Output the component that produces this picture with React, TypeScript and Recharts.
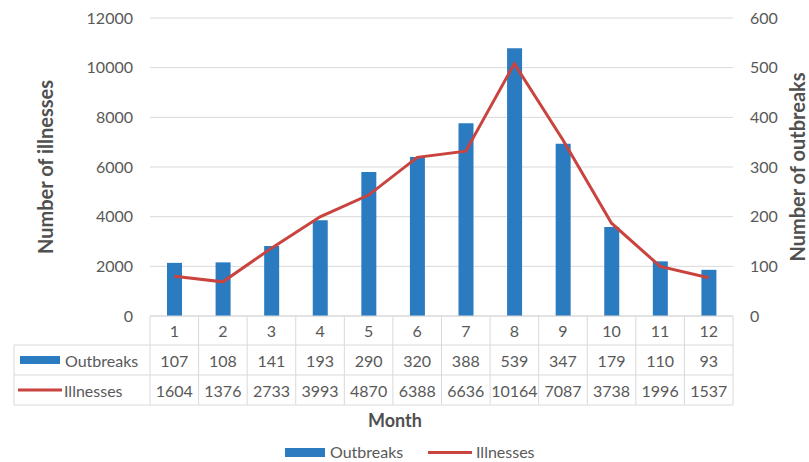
import React from "react";
import {
  ComposedChart,
  Bar,
  Line,
  XAxis,
  YAxis,
  CartesianGrid,
  Legend,
} from "recharts";

const months = ["1", "2", "3", "4", "5", "6", "7", "8", "9", "10", "11", "12"];
const outbreaks = [107, 108, 141, 193, 290, 320, 388, 539, 347, 179, 110, 93];
const illnesses = [1604, 1376, 2733, 3993, 4870, 6388, 6636, 10164, 7087, 3738, 1996, 1537];
const illnessTicks = [0, 2000, 4000, 6000, 8000, 10000, 12000];
const outbreakTicks = [0, 100, 200, 300, 400, 500, 600];

const data = months.map((m, i) => ({
  month: m,
  outbreaks: outbreaks[i],
  illnesses: illnesses[i],
}));

const BLUE = "#2b7bc1";
const RED = "#c9433f";
const GRID = "#d9d9d9";
const TEXT = "#595959";

// rows of the data table under the plot: month / outbreaks / illnesses
const ROWS = [29, 30, 30];

const TableTick = ({ x, y, payload, index }: any) => {
  const half = payload.offset || 24.3;
  const left = x - half;
  const right = x + half;
  const y1 = y + ROWS[0];
  const y2 = y1 + ROWS[1];
  const y3 = y2 + ROWS[2];
  const head = left - 136;
  const txt = { fontSize: 16, fill: TEXT, textAnchor: "middle" as const, dominantBaseline: "central" as const };
  return (
    <g>
      <line x1={right} y1={y} x2={right} y2={y3} stroke={GRID} />
      <line x1={left} y1={y1} x2={right} y2={y1} stroke={GRID} />
      <line x1={left} y1={y2} x2={right} y2={y2} stroke={GRID} />
      <line x1={left} y1={y3} x2={right} y2={y3} stroke={GRID} />
      <text x={x} y={y + ROWS[0] / 2} {...txt}>{payload.value}</text>
      <text x={x} y={y1 + ROWS[1] / 2} {...txt}>{outbreaks[index]}</text>
      <text x={x} y={y2 + ROWS[2] / 2} {...txt}>{illnesses[index]}</text>
      {index === 0 && (
        <g>
          <line x1={left} y1={y} x2={left} y2={y3} stroke={GRID} />
          <line x1={head} y1={y1} x2={head} y2={y3} stroke={GRID} />
          <line x1={head} y1={y1} x2={left} y2={y1} stroke={GRID} />
          <line x1={head} y1={y2} x2={left} y2={y2} stroke={GRID} />
          <line x1={head} y1={y3} x2={left} y2={y3} stroke={GRID} />
          <rect x={head + 6} y={y1 + ROWS[1] / 2 - 4} width={40} height={8} fill={BLUE} />
          <text x={head + 51} y={y1 + ROWS[1] / 2} {...txt} textAnchor="start">Outbreaks</text>
          <line x1={head + 4} y1={y2 + ROWS[2] / 2} x2={head + 48} y2={y2 + ROWS[2] / 2} stroke={RED} strokeWidth={3} />
          <text x={head + 50} y={y2 + ROWS[2] / 2} {...txt} textAnchor="start">Illnesses</text>
        </g>
      )}
    </g>
  );
};

const AxisTitle = ({ viewBox, value, dx }: any) => {
  const cx = viewBox.x + dx;
  const cy = viewBox.y + viewBox.height / 2;
  return (
    <text
      x={cx}
      y={cy}
      transform={`rotate(-90 ${cx} ${cy})`}
      textAnchor="middle"
      dominantBaseline="central"
      fontSize={20}
      fontWeight="bold"
      fill="#505050"
    >
      {value}
    </text>
  );
};

const BottomLegend = () => (
  <div style={{ position: "relative", width: 809, height: 57, color: TEXT }}>
    <div
      style={{
        position: "absolute",
        left: 0,
        width: 790,
        top: 4,
        textAlign: "center",
        fontSize: 18,
        fontWeight: "bold",
        lineHeight: "22px",
        color: "#505050",
      }}
    >
      Month
    </div>
    <div style={{ position: "absolute", left: 285, top: 43, width: 40, height: 9, background: BLUE }} />
    <div style={{ position: "absolute", left: 330, top: 37, fontSize: 16, lineHeight: "20px" }}>Outbreaks</div>
    <div style={{ position: "absolute", left: 428, top: 46, width: 44, height: 3, background: RED }} />
    <div style={{ position: "absolute", left: 476, top: 37, fontSize: 16, lineHeight: "20px" }}>Illnesses</div>
  </div>
);

export default function App() {
  return (
    <div style={{ position: "absolute", left: 0, top: 0, fontFamily: "Lato, sans-serif", background: "#fff" }}>
      <ComposedChart
        width={809}
        height={462}
        data={data}
        margin={{ top: 18, right: 0, left: 0, bottom: 0 }}
      >
        <CartesianGrid yAxisId="left" vertical={false} stroke={GRID} />
        <XAxis
          dataKey="month"
          height={89}
          tickLine={false}
          axisLine={{ stroke: GRID }}
          tickSize={0}
          tickMargin={0}
          interval={0}
          tick={<TableTick />}
        />
        <YAxis
          yAxisId="left"
          width={150}
          domain={[0, 12000]}
          ticks={illnessTicks}
          axisLine={false}
          tickLine={false}
          tickSize={0}
          tickMargin={17}
          tick={{ fontSize: 16, fill: TEXT }}
          label={<AxisTitle value="Number of illnesses" dx={45} />}
        />
        <YAxis
          yAxisId="right"
          orientation="right"
          width={76}
          domain={[0, 600]}
          ticks={outbreakTicks}
          axisLine={false}
          tickLine={false}
          tickSize={0}
          tickMargin={17}
          tick={{ fontSize: 16, fill: TEXT }}
          label={<AxisTitle value="Number of outbreaks" dx={64} />}
        />
        <Bar
          yAxisId="right"
          dataKey="outbreaks"
          name="Outbreaks"
          fill={BLUE}
          barSize={15}
          isAnimationActive={false}
        />
        <Line
          yAxisId="left"
          type="linear"
          dataKey="illnesses"
          name="Illnesses"
          stroke={RED}
          strokeWidth={3}
          dot={false}
          isAnimationActive={false}
        />
        <Legend
          verticalAlign="bottom"
          content={<BottomLegend />}
          wrapperStyle={{ height: 57, width: 809, left: 0 }}
        />
      </ComposedChart>
    </div>
  );
}
